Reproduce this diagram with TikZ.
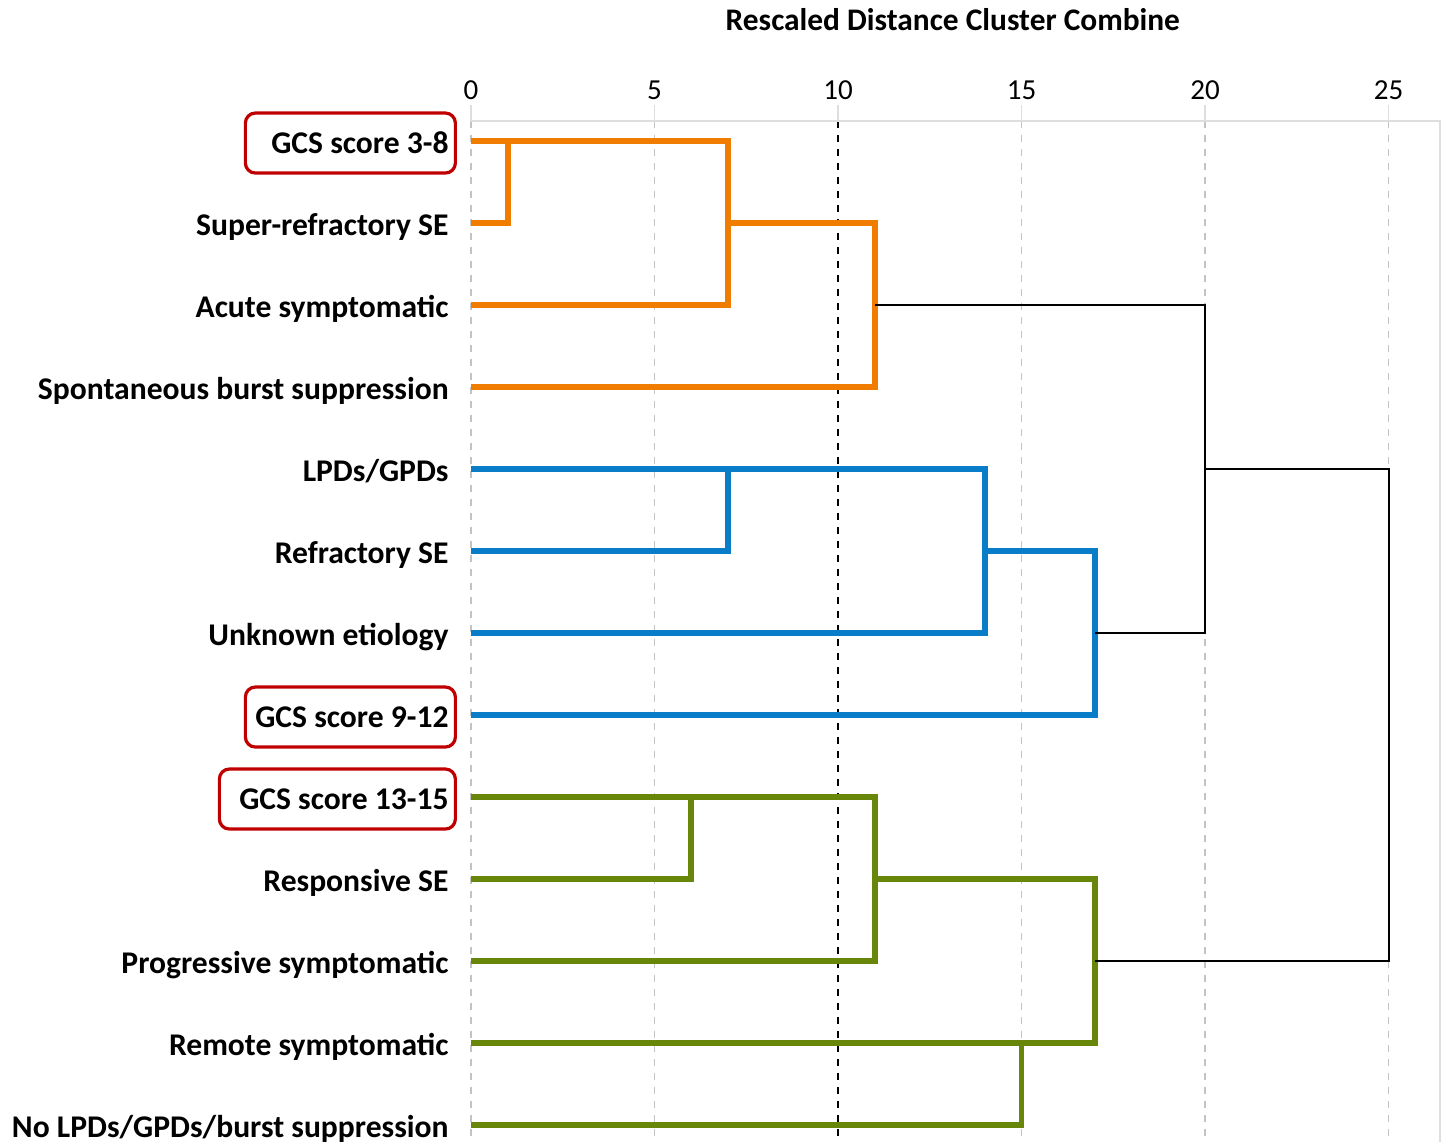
\documentclass[tikz,border=0pt]{standalone}
\usepackage{fontspec}
\setmainfont{Carlito}
\usetikzlibrary{positioning}
\definecolor{clorange}{RGB}{240,125,0}
\definecolor{clblue}{RGB}{10,125,200}
\definecolor{clgreen}{RGB}{104,135,10}
\definecolor{gcsred}{RGB}{192,0,0}
\definecolor{gridgray}{RGB}{195,195,195}
\definecolor{framegray}{RGB}{222,222,222}
\tikzset{
	leaf/.style = {
		anchor=east,
		font=\fontsize{15.8}{18}\selectfont\bfseries,
		inner sep=0pt,
		text height=12pt,
		text depth=2pt
	},
	gcsbox/.style = {
		draw=gcsred,
		line width=1.6pt,
		rounded corners=5pt,
		anchor=east,
		inner sep=0pt,
		minimum height=30pt,
		minimum width=#1
	},
	tick/.style = {font=\fontsize{14.5}{17}\selectfont},
	gridline/.style = {gridgray, line width=0.8pt, dash pattern=on 3.5pt off 3.5pt},
	frameline/.style = {framegray, line width=0.8pt},
	link/.style = {line width=2.8pt},
	joinline/.style = {black, line width=1pt}
}

\begin{document}
\begin{tikzpicture}[x=18.35pt, y=-41pt]
	\useasboundingbox (-12.834,-0.7195) rectangle (26.54,13.207);

	% axis and grid
	\foreach \t in {0,5,15,20,25}
		\draw[gridline] (\t,0.756) -- (\t,13.207);
	\draw[gridline, black, line width=1pt] (10,0.756) -- (10,13.207);
	\draw[frameline] (0,0.756) -- (26.4,0.756) -- (26.4,13.207);
	\foreach \t in {0,5,...,25} {
		\draw[frameline] (\t,0.56) -- (\t,0.756);
		\node[tick] (t\t) at (\t,0.378) {\t};
	}
	\node[font=\fontsize{15.7}{18}\selectfont\bfseries] (title) at (13.13,-0.476) {Rescaled Distance Cluster Combine};

	\foreach \i in {1,...,13}
		\coordinate (l\i) at (0,\i);

	% orange cluster
	\draw[link, clorange] (l1) -| (7,3) -- (l3);
	\draw[link, clorange] (l2) -| (1,1);
	\draw[link, clorange] (7,2) -| (11,4) -- (l4);

	% blue cluster
	\draw[link, clblue] (l5) -| (14,7) -- (l7);
	\draw[link, clblue] (l6) -| (7,5);
	\draw[link, clblue] (14,6) -| (17,8) -- (l8);

	% green cluster
	\draw[link, clgreen] (l9) -| (11,11) -- (l11);
	\draw[link, clgreen] (l10) -| (6,9);
	\draw[link, clgreen] (11,10) -| (17,12) -- (l12);
	\draw[link, clgreen] (l13) -| (15,12);

	% joins between clusters
	\draw[joinline] (11,3) -| (20,7) -- (17,7);
	\draw[joinline] (20,5) -| (25,11) -- (17,11);

	% labels
	\node[leaf] (r1) at (-0.6,1.025) {GCS score 3-8};
	\node[leaf] (r2) at (-0.6,2.025) {Super-refractory SE};
	\node[leaf] (r3) at (-0.6,3.025) {Acute symptomatic};
	\node[leaf] (r4) at (-0.6,4.025) {Spontaneous burst suppression};
	\node[leaf] (r5) at (-0.6,5.025) {LPDs/GPDs};
	\node[leaf] (r6) at (-0.6,6.025) {Refractory SE};
	\node[leaf] (r7) at (-0.6,7.025) {Unknown etiology};
	\node[leaf] (r8) at (-0.6,8.025) {GCS score 9-12};
	\node[leaf] (r9) at (-0.6,9.025) {GCS score 13-15};
	\node[leaf] (r10) at (-0.6,10.025) {Responsive SE};
	\node[leaf] (r11) at (-0.6,11.025) {Progressive symptomatic};
	\node[leaf] (r12) at (-0.6,12.025) {Remote symptomatic};
	\node[leaf] (r13) at (-0.6,13.025) {No LPDs/GPDs/burst suppression};

	% GCS boxes
	\node[gcsbox=105pt] (b1) at ([xshift=4pt]r1.east) {};
	\node[gcsbox=105pt] (b8) at ([xshift=4pt]r8.east) {};
	\node[gcsbox=118pt] (b9) at ([xshift=4pt]r9.east) {};
\end{tikzpicture}
\end{document}
